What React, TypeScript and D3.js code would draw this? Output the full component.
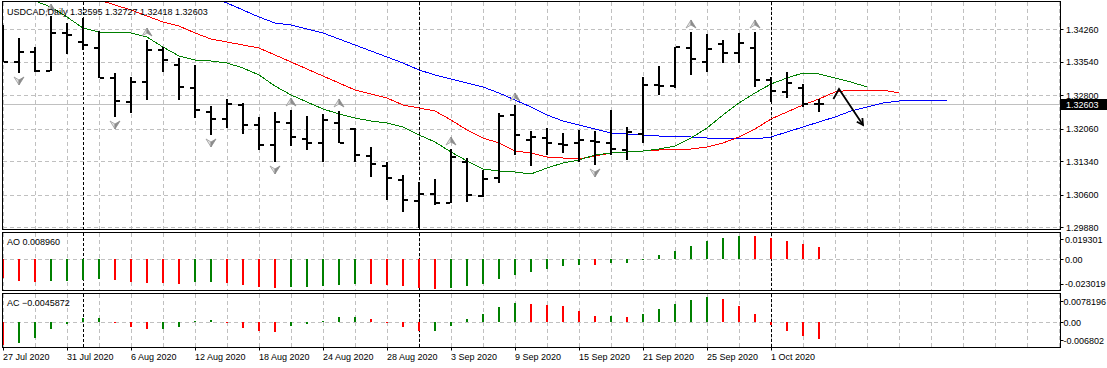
import React from 'react';
import * as d3 from 'd3';

// USDCAD daily bars, 27 Jul 2020 .. 6 Oct 2020
const dates = [
  '2020-07-27', '2020-07-28', '2020-07-29', '2020-07-30', '2020-07-31',
  '2020-08-03', '2020-08-04', '2020-08-05', '2020-08-06', '2020-08-07',
  '2020-08-10', '2020-08-11', '2020-08-12', '2020-08-13', '2020-08-14',
  '2020-08-17', '2020-08-18', '2020-08-19', '2020-08-20', '2020-08-21',
  '2020-08-24', '2020-08-25', '2020-08-26', '2020-08-27', '2020-08-28',
  '2020-08-31', '2020-09-01', '2020-09-02', '2020-09-03', '2020-09-04',
  '2020-09-07', '2020-09-08', '2020-09-09', '2020-09-10', '2020-09-11',
  '2020-09-14', '2020-09-15', '2020-09-16', '2020-09-17', '2020-09-18',
  '2020-09-21', '2020-09-22', '2020-09-23', '2020-09-24', '2020-09-25',
  '2020-09-28', '2020-09-29', '2020-09-30', '2020-10-01', '2020-10-02',
  '2020-10-05', '2020-10-06',
];

const opens = [
  1.34020, 1.33534, 1.33755, 1.33335, 1.34175, 1.33976, 1.33843, 1.33180, 1.32650, 1.33092,
  1.33799, 1.33468, 1.32959, 1.32429, 1.32274, 1.32584, 1.32142, 1.31700, 1.32186, 1.31832,
  1.31744, 1.32186, 1.32053, 1.31456, 1.31235, 1.30926, 1.30462, 1.30617, 1.30418, 1.31324,
  1.30572, 1.30970, 1.32363, 1.31810, 1.31854, 1.31722, 1.31744, 1.31788, 1.31744, 1.31589,
  1.31943, 1.33026, 1.33003, 1.33843, 1.33534, 1.33932, 1.33733, 1.33843, 1.33136, 1.32871,
  1.32959, 1.32595,
];
const highs = [
  1.34352, 1.34064, 1.33865, 1.34550, 1.34396, 1.34506, 1.34219, 1.33291, 1.33202, 1.34020,
  1.33865, 1.33622, 1.33468, 1.32561, 1.32716, 1.32628, 1.32318, 1.32429, 1.32473, 1.32340,
  1.32385, 1.32451, 1.32075, 1.31655, 1.31324, 1.31037, 1.30882, 1.30948, 1.31611, 1.31412,
  1.31147, 1.32407, 1.32584, 1.32009, 1.32075, 1.31965, 1.32031, 1.32009, 1.32473, 1.32097,
  1.33202, 1.33445, 1.33865, 1.34197, 1.34153, 1.34020, 1.34175, 1.34197, 1.33202, 1.33313,
  1.33048, 1.32727,
];
const lows = [
  1.33534, 1.33291, 1.33313, 1.33335, 1.33711, 1.33799, 1.33180, 1.32318, 1.32407, 1.32694,
  1.33313, 1.32694, 1.32296, 1.31921, 1.32075, 1.31943, 1.31589, 1.31324, 1.31677, 1.31589,
  1.31324, 1.31744, 1.31324, 1.30992, 1.30484, 1.30219, 1.29865, 1.30374, 1.30418, 1.30440,
  1.30550, 1.30860, 1.31479, 1.31235, 1.31479, 1.31523, 1.31324, 1.31258, 1.31479, 1.31368,
  1.31744, 1.32805, 1.32959, 1.33247, 1.33313, 1.33512, 1.33512, 1.32981, 1.32650, 1.32738,
  1.32539, 1.32418,
];
const closes = [
  1.33534, 1.33755, 1.33335, 1.34175, 1.34131, 1.33910, 1.33180, 1.32672, 1.33092, 1.33799,
  1.33578, 1.32981, 1.32473, 1.32274, 1.32606, 1.32142, 1.31700, 1.32208, 1.31876, 1.31744,
  1.32252, 1.31744, 1.31479, 1.31280, 1.30970, 1.30484, 1.30617, 1.30418, 1.31434, 1.30595,
  1.30948, 1.32340, 1.31921, 1.31876, 1.31744, 1.31700, 1.31810, 1.31766, 1.31611, 1.31987,
  1.33026, 1.33003, 1.33865, 1.33600, 1.33821, 1.33733, 1.33954, 1.33136, 1.32893, 1.33070,
  1.32606, 1.32603,
];

// Alligator lines (shifted forward), first bar index of each
const jawStart = 13;
const jaw = [
  1.34948, 1.34838, 1.34683, 1.34528, 1.34396, 1.34352, 1.34263, 1.34175, 1.34042, 1.33910,
  1.33777, 1.33644, 1.33512, 1.33357, 1.33247, 1.33158, 1.33070, 1.32981, 1.32849, 1.32694,
  1.32539, 1.32363, 1.32230, 1.32142, 1.32053, 1.31965, 1.31943, 1.31921, 1.31898, 1.31898,
  1.31876, 1.31854, 1.31854, 1.31854, 1.31832, 1.31876, 1.31987, 1.32097, 1.32208, 1.32318,
  1.32451, 1.32539, 1.32628, 1.32672, 1.32694, 1.32694, 1.32694,
];
const teethStart = 5;
const teeth = [
  1.35015, 1.34904, 1.34794, 1.34683, 1.34550, 1.34418, 1.34329, 1.34175, 1.34042, 1.33976,
  1.33910, 1.33843, 1.33689, 1.33534, 1.33379, 1.33224, 1.33070, 1.32915, 1.32827, 1.32738,
  1.32584, 1.32517, 1.32451, 1.32252, 1.32031, 1.31854, 1.31744, 1.31567, 1.31523, 1.31434,
  1.31412, 1.31390, 1.31456, 1.31523, 1.31545, 1.31567, 1.31589, 1.31589, 1.31611, 1.31655,
  1.31744, 1.31876, 1.32053, 1.32274, 1.32429, 1.32584, 1.32716, 1.32871, 1.32915, 1.32915,
  1.32915, 1.32849,
];
const lipsStart = 1;
const lips = [
  1.35015, 1.34882, 1.34749, 1.34528, 1.34285, 1.34197, 1.34175, 1.34175, 1.34086, 1.33865,
  1.33666, 1.33578, 1.33556, 1.33512, 1.33401, 1.33247, 1.33003, 1.32805, 1.32650, 1.32495,
  1.32385, 1.32296, 1.32230, 1.32186, 1.32097, 1.31921, 1.31766, 1.31545, 1.31346, 1.31169,
  1.31125, 1.31103, 1.31059, 1.31191, 1.31302, 1.31368, 1.31479, 1.31523, 1.31545, 1.31567,
  1.31611, 1.31677, 1.31854, 1.32075, 1.32363, 1.32628, 1.32849, 1.33048, 1.33180, 1.33291,
  1.33269, 1.33180, 1.33092, 1.32981,
];

const fractalUp = [3, 9, 18, 21, 28, 32, 43, 47];
const fractalDown = [1, 7, 13, 17, 26, 37];

// Awesome Oscillator and Accelerator/Decelerator
const ao = [
  -0.0133, -0.0158, -0.0165, -0.0157, -0.0156, -0.0151, -0.0143, -0.0150, -0.0165, -0.0172,
  -0.0173, -0.0180, -0.0165, -0.0164, -0.0172, -0.0187, -0.0202, -0.0209, -0.0202, -0.0201,
  -0.0194, -0.0187, -0.0180, -0.0181, -0.0187, -0.0194, -0.0209, -0.0216, -0.0209, -0.0194,
  -0.0180, -0.0143, -0.0114, -0.0092, -0.0071, -0.0049, -0.0041, -0.0042, -0.0027, -0.0026,
  -0.0003, 0.0031, 0.0060, 0.0097, 0.0133, 0.0155, 0.0170, 0.0169, 0.0155, 0.0133,
  0.0111, 0.008960,
];
const ac = [
  -0.0060, -0.0057, -0.0043, -0.0019, -0.0005, 0.0011, 0.0012, -0.0003, -0.0013, -0.0019,
  -0.0018, -0.0013, 0.0003, 0.0005, -0.0001, -0.0016, -0.0024, -0.0027, -0.0011, -0.0005,
  0.0003, 0.0013, 0.0014, 0.0008, -0.0003, -0.0013, -0.0024, -0.0023, -0.0011, 0.0008,
  0.0022, 0.0040, 0.0051, 0.0049, 0.0046, 0.0043, 0.0030, 0.0016, 0.0017, 0.0013,
  0.0022, 0.0036, 0.0049, 0.0060, 0.0068, 0.0063, 0.0044, 0.0022, -0.0007, -0.0023,
  -0.0037, -0.0045872,
];

const priceTicks = [1.3426, 1.3354, 1.328, 1.3206, 1.3134, 1.306, 1.2988];
const aoLabels = ['0.019301', '0.00', '-0.023019'];
const acLabels = ['0.0078196', '0.00', '-0.006802'];

// hand-drawn arrow object: [bar index, price]
const arrowPoints: [number, number][] = [[51.9, 1.32716], [52.25, 1.32937], [53.75, 1.32142]];

const FONT = '"Liberation Sans", Arial, sans-serif';
const GREEN = '#008000';
const RED = '#ff0000';
const GRID = '#c0c0c0';

const L = 2.5, R = 1060.5;
const mainTop = 1.5, mainBot = 229.5;
const aoTop = 232.5, aoBot = 290.5;
const acTop = 293.5, acBot = 347.5;

function fractalShape(cx: number, cy: number, up: boolean) {
  const s = up ? 1 : -1;
  const tip = [cx, cy - 4 * s];
  const notch = [cx, cy + 1 * s];
  const lft = [cx - 5, cy + 4 * s];
  const rgt = [cx + 5, cy + 4 * s];
  const p = (a: number[][]) => 'M' + a.map(q => q.join(',')).join('L') + 'Z';
  return (
    <g>
      <path d={p([tip, notch, lft])} fill="#e4e4e4" stroke="#9a9a9a" strokeWidth={0.8} />
      <path d={p([tip, rgt, notch])} fill="#8c8c8c" stroke="#8c8c8c" strokeWidth={0.8} />
    </g>
  );
}

export default function App() {
  const x = d3.scaleLinear().domain([0, 51]).range([3, 819]);
  const y = d3.scaleLinear().domain([1.29865, 1.3486]).range([228, 2]);
  const yAO = d3.scaleLinear().domain([-0.023019, 0.019301]).range([290.9, 232.8]);
  const yAC = d3.scaleLinear().domain([-0.006802, 0.0078196]).range([347.5, 293.3]);

  const parse = d3.utcParse('%Y-%m-%d');
  const fmtDate = d3.utcFormat('%-d %b %Y');
  const days = dates.map(d => parse(d) as Date);
  const monthStarts = days.map((d, i) => i).filter(i => i > 0 && days[i].getUTCMonth() !== days[i - 1].getUTCMonth());

  const gridX = d3.range(0, 67, 2).map(i => Math.round(x(i)) + 0.5);
  const labelIdx = d3.range(0, dates.length, 4);

  const line = (start: number, vals: number[]) =>
    d3.line<number>().x((_, i) => x(start + i)).y(v => y(v))(vals) || '';

  const last = dates.length - 1;
  const fmt5 = d3.format('.5f');
  const title = `USDCAD,Daily  ${fmt5(opens[last])} ${fmt5(highs[last])} ${fmt5(lows[last])} ${fmt5(closes[last])}`;

  const histo = (vals: number[], ys: d3.ScaleLinear<number, number>) =>
    vals.map((v, i) => {
      const cx = Math.round(x(i));
      const y0 = ys(0), y1 = ys(v);
      const col = i > 0 && v > vals[i - 1] ? GREEN : RED;
      return <rect key={i} x={cx - 1} width={2} y={Math.min(y0, y1)} height={Math.max(1, Math.abs(y1 - y0))} fill={col} />;
    });

  const ap = arrowPoints.map(([i, p]) => [x(i), y(p)]);
  const [ax0, ay0] = ap[ap.length - 2];
  const [ax1, ay1] = ap[ap.length - 1];
  const ang = Math.atan2(ay1 - ay0, ax1 - ax0);
  const head = [ang + Math.PI - 0.5, ang + Math.PI + 0.5].map(a => [ax1 + 7 * Math.cos(a), ay1 + 7 * Math.sin(a)]);

  const lastY = Math.round(y(closes[last])) + 0.5;

  return (
    <div style={{ position: 'absolute', left: 0, top: 0 }}>
      <svg width={1107} height={368} style={{ display: 'block', background: '#fff' }} fontFamily={FONT} fontSize={9}>
        <defs>
          <clipPath id="mainClip"><rect x={L} y={mainTop} width={R - L} height={mainBot - mainTop} /></clipPath>
          <clipPath id="aoClip"><rect x={L} y={aoTop} width={R - L} height={aoBot - aoTop} /></clipPath>
          <clipPath id="acClip"><rect x={L} y={acTop} width={R - L} height={acBot - acTop} /></clipPath>
        </defs>

        {/* grids */}
        <g stroke={GRID} strokeDasharray="4,3" shapeRendering="crispEdges">
          {gridX.map((gx, k) => (
            <g key={k}>
              <line x1={gx} x2={gx} y1={mainTop} y2={mainBot} />
              <line x1={gx} x2={gx} y1={aoTop} y2={aoBot} />
              <line x1={gx} x2={gx} y1={acTop} y2={acBot} />
            </g>
          ))}
          {priceTicks.map(p => (
            <line key={p} x1={L} x2={R} y1={Math.round(y(p)) + 0.5} y2={Math.round(y(p)) + 0.5} />
          ))}
          <line x1={L} x2={R} y1={Math.round(yAO(0)) + 0.5} y2={Math.round(yAO(0)) + 0.5} />
          <line x1={L} x2={R} y1={Math.round(yAC(0)) + 0.5} y2={Math.round(yAC(0)) + 0.5} />
        </g>

        {/* month separators */}
        <g stroke="#000" strokeDasharray="3,2" shapeRendering="crispEdges">
          {monthStarts.map(i => {
            const mx = Math.round(x(i)) + 0.5;
            return (
              <g key={i}>
                <line x1={mx} x2={mx} y1={mainTop} y2={mainBot} />
                <line x1={mx} x2={mx} y1={aoTop} y2={aoBot} />
                <line x1={mx} x2={mx} y1={acTop} y2={acBot} />
              </g>
            );
          })}
        </g>

        {/* main pane */}
        <g clipPath="url(#mainClip)">
          <line x1={L} x2={R} y1={lastY} y2={lastY} stroke={GRID} shapeRendering="crispEdges" />
          <g fill="none" strokeWidth={1} shapeRendering="crispEdges">
            <path d={line(jawStart, jaw)} stroke="#0000ff" />
            <path d={line(teethStart, teeth)} stroke={RED} />
            <path d={line(lipsStart, lips)} stroke={GREEN} />
          </g>

          <g fill="#000" shapeRendering="crispEdges">
            {dates.map((_, i) => {
              const cx = Math.round(x(i));
              const yh = Math.round(y(highs[i])), yl = Math.round(y(lows[i]));
              const yo = Math.round(y(opens[i])), yc = Math.round(y(closes[i]));
              return (
                <g key={i}>
                  <rect x={cx - 1} width={2} y={yh} height={Math.max(2, yl - yh)} />
                  <rect x={cx - 5} width={4} y={yo - 1} height={2} />
                  <rect x={cx + 1} width={4} y={yc - 1} height={2} />
                </g>
              );
            })}
          </g>

          {fractalUp.map(i => <g key={'u' + i}>{fractalShape(x(i), y(highs[i]) - 8, true)}</g>)}
          {fractalDown.map(i => <g key={'d' + i}>{fractalShape(x(i), y(lows[i]) + 8, false)}</g>)}

          <path d={'M' + ap.map(q => q.join(',')).join('L')} fill="none" stroke="#000" strokeWidth={1.8} />
          <path d={`M${head[0].join(',')}L${ax1},${ay1}L${head[1].join(',')}`} fill="none" stroke="#000" strokeWidth={1.8} />
        </g>

        {/* oscillators */}
        <g clipPath="url(#aoClip)" shapeRendering="crispEdges">{histo(ao, yAO)}</g>
        <g clipPath="url(#acClip)" shapeRendering="crispEdges">{histo(ac, yAC)}</g>

        {/* frames */}
        <g fill="none" stroke="#000" shapeRendering="crispEdges">
          <rect x={L} y={mainTop} width={R - L} height={mainBot - mainTop} />
          <rect x={L} y={aoTop} width={R - L} height={aoBot - aoTop} />
          <rect x={L} y={acTop} width={R - L} height={acBot - acTop} />
        </g>

        {/* right axis */}
        <g fill="#000">
          {priceTicks.map(p => (
            <g key={p}>
              <line x1={R} x2={R + 3} y1={Math.round(y(p)) + 0.5} y2={Math.round(y(p)) + 0.5} stroke="#000" />
              <text x={1066} y={y(p) + 3.5}>{fmt5(p)}</text>
            </g>
          ))}
          {[aoTop + 10, yAO(0) + 3.5, aoBot - 3.5].map((ty, k) => (
            <g key={'ao' + k}>
              <line x1={R} x2={R + 3} y1={Math.round(ty - 3.5) + 0.5} y2={Math.round(ty - 3.5) + 0.5} stroke="#000" />
              <text x={1065} y={ty}>{aoLabels[k]}</text>
            </g>
          ))}
          {[acTop + 11, yAC(0) + 3.5, acBot - 4].map((ty, k) => (
            <g key={'ac' + k}>
              <line x1={R} x2={R + 3} y1={Math.round(ty - 3.5) + 0.5} y2={Math.round(ty - 3.5) + 0.5} stroke="#000" />
              <text x={1063.5} y={ty}>{acLabels[k]}</text>
            </g>
          ))}
          <rect x={1061} y={lastY - 5.5} width={46} height={11} fill="#000" />
          <text x={1066} y={lastY + 3.5} fill="#fff">{fmt5(closes[last])}</text>
        </g>

        {/* date axis */}
        <g fill="#000">
          {labelIdx.map(i => {
            const lx = Math.round(x(i)) + 0.5;
            return (
              <g key={i}>
                <line x1={lx} x2={lx} y1={acBot} y2={acBot + 3} stroke="#000" />
                <text x={x(i)} y={360}>{fmtDate(days[i])}</text>
              </g>
            );
          })}
        </g>

        {/* pane titles */}
        <text x={7} y={15} fill="#000">{title}</text>
        <text x={7} y={245} fill="#000">{'AO ' + d3.format('.6f')(ao[last])}</text>
        <text x={7} y={306} fill="#000">{'AC ' + d3.format('.7f')(ac[last])}</text>
      </svg>
    </div>
  );
}
